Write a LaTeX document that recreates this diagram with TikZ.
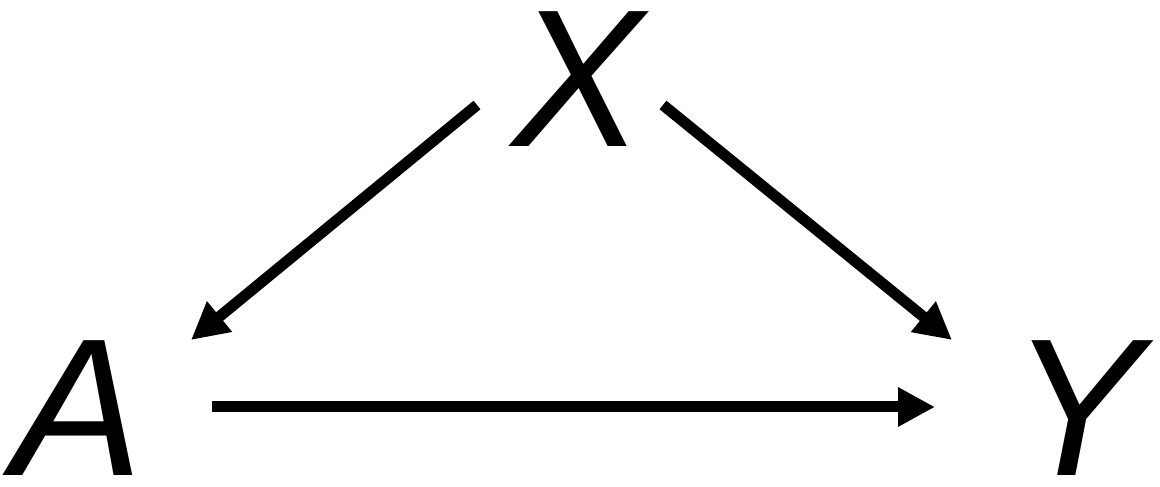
\documentclass[tikz,border=0pt]{standalone}
\usepackage{fontspec}
\setmainfont{Liberation Sans}
\usetikzlibrary{arrows.meta}
\tikzset{
  var/.style={inner sep=0pt, outer sep=0pt, font=\fontsize{196}{196}\selectfont\itshape},
  arr/.style={line width=11pt, -{Triangle[length=37pt,width=37pt]}}
}
\begin{document}
\begin{tikzpicture}[x=1pt,y=1pt]
\useasboundingbox (0,0) rectangle (1160,487);
\node[var] (X) at (578,408) {X};
\node[var] (A) at (78,79) {A};
\node[var] (Y) at (1077,79) {Y};
\draw[arr] ([shift={(-101,-26)}]X.center) -- ([shift={(113,68)}]A.center);
\draw[arr] ([shift={(85,-26)}]X.center) -- ([shift={(-125,68)}]Y.center);
\draw[arr] ([shift={(134,1)}]A.center) -- ([shift={(-142,1)}]Y.center);
\end{tikzpicture}
\end{document}
